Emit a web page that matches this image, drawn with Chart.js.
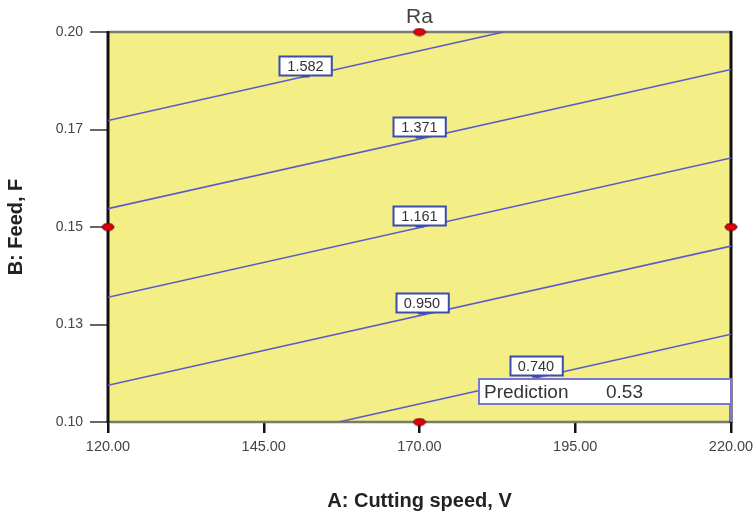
<!DOCTYPE html>
<html><head><meta charset="utf-8">
<script src="https://cdn.jsdelivr.net/npm/chart.js@4.4.0/dist/chart.umd.min.js"></script>
<style>html,body{margin:0;padding:0;background:#fff}#wrap{width:753px;height:515px}</style>
</head><body><div id="wrap"><canvas id="c" width="753" height="515"></canvas></div>
<script>
const chartTitle = 'Ra';
const xAxisTitle = 'A: Cutting speed, V';
const yAxisTitle = 'B: Feed, F';
const xTicks = [120, 145, 170, 195, 220];
const xTickLabels = ['120.00', '145.00', '170.00', '195.00', '220.00'];
const yTicks = [0.100, 0.125, 0.150, 0.175, 0.200];
const yTickLabels = ['0.10', '0.13', '0.15', '0.17', '0.20'];
const contourLevels = ['1.582', '1.371', '1.161', '0.950', '0.740'];
const contourStartX = [120, 120, 120, 120, 157.0];
const contourStartY = [0.1773, 0.1547, 0.1320, 0.1094, 0.100];
const contourEndX = [183.5, 220, 220, 220, 220];
const contourEndY = [0.200, 0.1904, 0.1677, 0.1451, 0.1225];
const labelX = [151.7, 170, 170, 170.4, 188.7];
const labelY = [0.1888, 0.1732, 0.1503, 0.1279, 0.1117];
const designPointsX = [120, 170, 170, 220];
const designPointsY = [0.15, 0.20, 0.10, 0.15];
const predictionLabel = 'Prediction';
const predictionValue = '0.53';
const predictionX = 220;
const predictionY = 0.10;

const FONT = "'Liberation Sans', Arial, sans-serif";
const LINE_COLOR = '#5c5cc8';
const LABEL_BORDER = '#3b4cab';

// ellipse marker for design points
const dot = document.createElement('canvas');
dot.width = 14; dot.height = 9;
(function(){
  const g = dot.getContext('2d');
  g.beginPath();
  g.ellipse(7, 4.5, 6, 3.5, 0, 0, Math.PI * 2);
  g.fillStyle = '#e3000b';
  g.fill();
  g.lineWidth = 1;
  g.strokeStyle = '#5a0000';
  g.stroke();
})();

const datasets = contourLevels.map((lv, i) => ({
  label: lv,
  data: [{x: contourStartX[i], y: contourStartY[i]}, {x: contourEndX[i], y: contourEndY[i]}],
  showLine: true,
  borderColor: LINE_COLOR,
  borderWidth: 1.6,
  pointRadius: 0,
  fill: false
}));
datasets.push({
  label: 'design',
  data: designPointsX.map((x, i) => ({x, y: designPointsY[i]})),
  showLine: false,
  pointStyle: dot,
  pointRadius: 6,
  clip: false
});

const decor = {
  id: 'decor',
  beforeDraw(chart) {
    const {ctx, chartArea: a} = chart;
    ctx.save();
    ctx.fillStyle = '#f4ee86';
    ctx.fillRect(a.left, a.top, a.right - a.left, a.bottom - a.top);
    ctx.restore();
  },
  beforeDatasetsDraw(chart) {
    const {ctx, chartArea: a} = chart;
    ctx.save();
    ctx.lineWidth = 2.5;
    ctx.strokeStyle = '#7a7a70';
    ctx.beginPath();
    ctx.moveTo(a.left, a.top); ctx.lineTo(a.right, a.top);
    ctx.moveTo(a.left, a.bottom); ctx.lineTo(a.right, a.bottom);
    ctx.stroke();
    ctx.lineWidth = 3;
    ctx.strokeStyle = '#111';
    ctx.beginPath();
    ctx.moveTo(a.left, a.top - 1); ctx.lineTo(a.left, a.bottom + 1);
    ctx.moveTo(a.right, a.top - 1); ctx.lineTo(a.right, a.bottom + 1);
    ctx.stroke();
    ctx.restore();
  },
  afterDatasetsDraw(chart) {
    const {ctx, chartArea: a, scales: {x, y}} = chart;
    ctx.save();
    // title
    ctx.font = '21px ' + FONT;
    ctx.fillStyle = '#444';
    ctx.textAlign = 'center';
    ctx.textBaseline = 'middle';
    ctx.fillText(chartTitle, x.getPixelForValue(170), 17);
    // contour labels
    ctx.font = '14.5px ' + FONT;
    contourLevels.forEach((lv, i) => {
      const px = x.getPixelForValue(labelX[i]);
      const py = y.getPixelForValue(labelY[i]);
      const w = ctx.measureText(lv).width + 16;
      const h = 19;
      const bx = Math.round(px - w / 2) + 0.5, by = Math.round(py - h) - 0.5;
      ctx.fillStyle = '#fff';
      ctx.fillRect(bx, by, w, h);
      ctx.lineWidth = 2;
      ctx.strokeStyle = LABEL_BORDER;
      ctx.strokeRect(bx, by, w, h);
      ctx.beginPath();
      ctx.moveTo(px - 4, by + h + 1); ctx.lineTo(px + 4, by + h + 1);
      ctx.stroke();
      ctx.fillStyle = '#333';
      ctx.textAlign = 'center';
      ctx.textBaseline = 'middle';
      ctx.fillText(lv, px, by + h / 2 + 1);
    });
    // prediction flag
    const ax = x.getPixelForValue(predictionX);
    const ay = y.getPixelForValue(predictionY);
    const bw = 252, bh = 25;
    const bx = ax - bw, by = ay - 18 - bh;
    ctx.fillStyle = '#fff';
    ctx.fillRect(bx, by, bw, bh);
    ctx.lineWidth = 2;
    ctx.strokeStyle = '#7878d2';
    ctx.strokeRect(bx, by, bw, bh);
    ctx.beginPath();
    ctx.moveTo(ax, by + bh); ctx.lineTo(ax, ay);
    ctx.stroke();
    ctx.font = '19px ' + FONT;
    ctx.fillStyle = '#333';
    ctx.textAlign = 'left';
    ctx.textBaseline = 'middle';
    ctx.fillText(predictionLabel, bx + 5, by + bh / 2 + 1);
    ctx.fillText(predictionValue, bx + 127, by + bh / 2 + 1);
    ctx.restore();
  }
};

new Chart(document.getElementById('c'), {
  type: 'scatter',
  data: {datasets},
  options: {
    responsive: false,
    animation: false,
    devicePixelRatio: 1,
    layout: {padding: {top: 32, right: 22, left: 0, bottom: 0}},
    plugins: {legend: {display: false}, tooltip: {enabled: false}, title: {display: false}},
    scales: {
      x: {
        type: 'linear', min: 120, max: 220,
        afterBuildTicks: s => { s.ticks = xTicks.map(v => ({value: v})); },
        afterFit: s => { s.height = 93; s.paddingLeft = 0; s.paddingRight = 0; },
        ticks: {callback: (v, i) => xTickLabels[i], font: {family: FONT, size: 14.5}, color: '#444', padding: 5, maxRotation: 0, autoSkip: false},
        grid: {drawOnChartArea: false, drawTicks: true, tickLength: 11, color: '#111', lineWidth: 2.5},
        border: {display: false},
        title: {display: true, text: xAxisTitle, font: {family: FONT, size: 20, weight: 'bold'}, color: '#222', padding: {top: 0, bottom: 2}}
      },
      y: {
        type: 'linear', min: 0.1, max: 0.2,
        afterBuildTicks: s => { s.ticks = yTicks.map(v => ({value: v})); },
        afterFit: s => { s.width = 108; s.paddingTop = 0; s.paddingBottom = 0; },
        ticks: {callback: (v, i) => yTickLabels[i], font: {family: FONT, size: 14}, color: '#444', padding: 7, autoSkip: false},
        grid: {drawOnChartArea: false, drawTicks: true, tickLength: 18, color: '#666', lineWidth: 2},
        border: {display: false},
        title: {display: true, text: yAxisTitle, font: {family: FONT, size: 20, weight: 'bold'}, color: '#222', padding: {top: 4, bottom: 0}}
      }
    }
  },
  plugins: [decor]
});
</script>
</body></html>
